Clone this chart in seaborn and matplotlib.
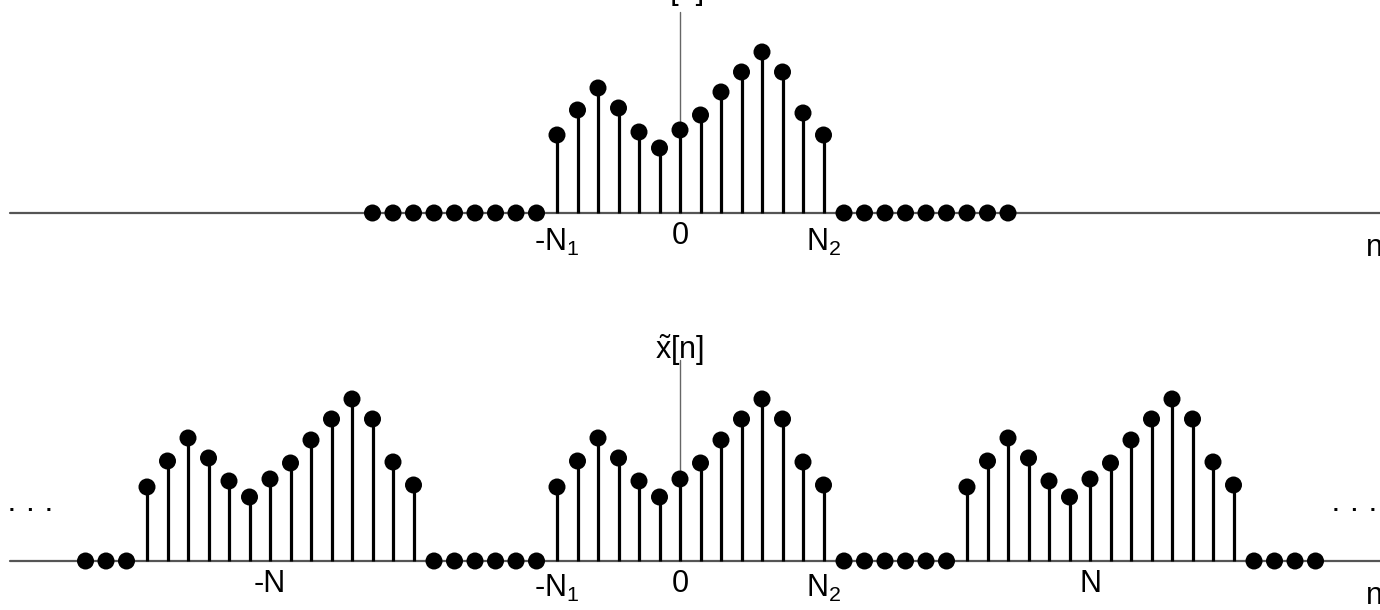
import numpy as np
import pandas as pd
import matplotlib
matplotlib.use("Agg")
import matplotlib.pyplot as plt
import seaborn as sns

sns.set_theme(style="white")
plt.rcParams["font.family"] = ["Liberation Sans", "DejaVu Sans"]
plt.rcParams["text.color"] = "black"
plt.rcParams["mathtext.fontset"] = "custom"
plt.rcParams["mathtext.rm"] = "Liberation Sans"
plt.rcParams["mathtext.it"] = "Liberation Sans"

# finite-length sequence x[n], nonzero for -N1 <= n <= N2
N1 = 6
N2 = 7
N = 20
x_vals = [78, 103, 125, 105, 81, 65, 83, 98, 121, 141, 161, 141, 100, 78]
xt_period = [74, 100, 123, 103, 80, 64, 82, 98, 121, 142, 162, 142, 99, 76]

# range of zero samples drawn on each plot
top_zero_left = (-15, -7)
top_zero_right = (8, 16)
bot_range = (-29, 31)

# (position, text, has subscript)
top_labels = [(-N1, "-N$\\mathregular{_1}$", True), (0, "0", False),
              (N2, "N$\\mathregular{_2}$", True)]
bot_labels = [(-N, "-N", False), (-N1, "-N$\\mathregular{_1}$", True), (0, "0", False),
              (N2, "N$\\mathregular{_2}$", True), (N, "N", False)]

W, H = 1380, 610
fig = plt.figure(figsize=(W / 100, H / 100), dpi=100)

XL = (-680 / 20.5, (W - 680) / 20.5)
FS = 22
STEM_LW = 2.3
MS = 150


def panel(y0, y1, base):
    ax = fig.add_axes([0, 1 - y1 / H, 1, (y1 - y0) / H])
    ax.set_xlim(*XL)
    ax.set_ylim(-(y1 - base), base - y0)
    ax.axis("off")
    return ax


def draw_seq(ax, df):
    nz = df[df["v"] != 0]
    ax.vlines(nz["n"], 0, nz["v"], color="black", lw=STEM_LW, zorder=3)
    sns.scatterplot(data=df, x="n", y="v", ax=ax, s=MS, color="black",
                    edgecolor="none", legend=False, zorder=4, clip_on=False)


def axis_lines(ax):
    ax.plot([XL[0] + 0.5, XL[1]], [0, 0], color="#555555", lw=1.6, zorder=1)
    ax.plot([0, 0], [0, 201], color="#666666", lw=1.0, zorder=1)
    ax.text(XL[1] - 0.7, -20, "n", ha="left", va="top", fontsize=FS)


def tick_labels(ax, labels, plain_top, sub_top):
    for k, lab, sub in labels:
        ax.text(k, -(sub_top if sub else plain_top), lab,
                ha="center", va="top", fontsize=FS)


# ---- top: x[n]
ax1 = panel(0, 300, 213)
n_top = np.r_[np.arange(top_zero_left[0], top_zero_left[1] + 1),
              np.arange(-N1, N2 + 1),
              np.arange(top_zero_right[0], top_zero_right[1] + 1)]
v_top = np.r_[np.zeros(top_zero_left[1] - top_zero_left[0] + 1), x_vals,
              np.zeros(top_zero_right[1] - top_zero_right[0] + 1)]
axis_lines(ax1)
draw_seq(ax1, pd.DataFrame({"n": n_top, "v": v_top}))
tick_labels(ax1, top_labels, 8, 14)
ax1.text(0, 222, "x[n]", ha="center", va="center", fontsize=FS)

# ---- bottom: periodic extension x~[n]
ax2 = panel(300, 610, 561)
n_bot = np.arange(bot_range[0], bot_range[1] + 1)
period = np.zeros(N)
period[np.arange(-N1, N2 + 1) % N] = xt_period
v_bot = period[n_bot % N]
axis_lines(ax2)
draw_seq(ax2, pd.DataFrame({"n": n_bot, "v": v_bot}))
tick_labels(ax2, bot_labels, 8, 12)
ax2.text(0, 211, r"$\mathregular{\tilde{x}[n]}$", ha="center", va="center", fontsize=FS)
for xc in (-31.65, 32.95):
    ax2.text(xc, 50, "\u00b7  \u00b7  \u00b7", ha="center", va="center", fontsize=15,
             fontweight="bold")

fig.savefig("out.png", dpi=100)
